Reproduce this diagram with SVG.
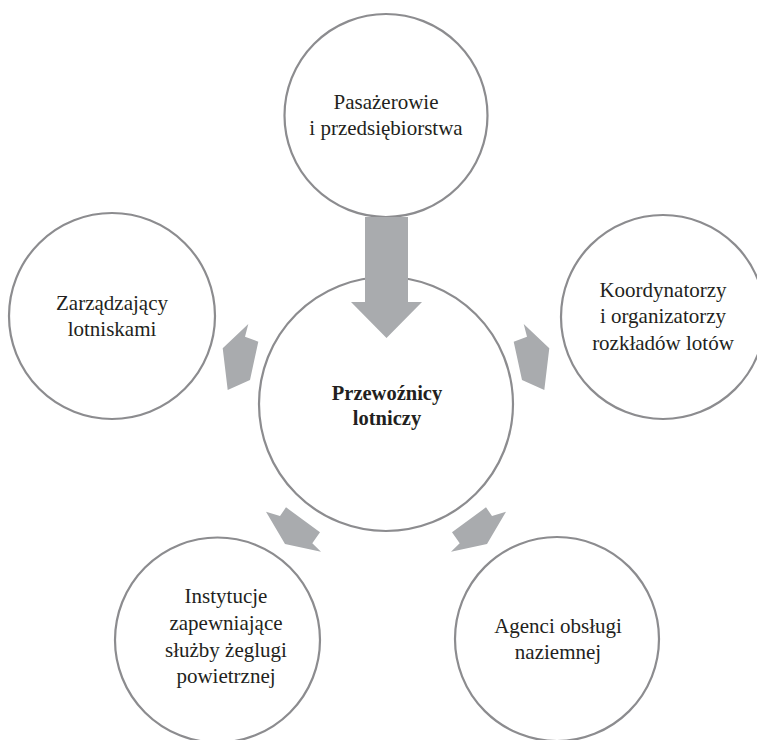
<svg xmlns="http://www.w3.org/2000/svg" width="757" height="740" viewBox="0 0 757 740">
<style>
.c{fill:#fff;stroke:#8c8c8f;stroke-width:2.2}
.t{font-family:'Liberation Serif','DejaVu Serif','Times New Roman',serif;font-size:21px;fill:#231f20;text-anchor:middle}
.b{font-weight:bold;font-size:20.5px}
.a{fill:#a9abae;stroke:none}
</style>
<rect width="757" height="740" fill="#fff"/>
<g id="node-top"><circle class="c" cx="386" cy="115.5" r="101.5"/>
<text class="t" x="386" y="109" font-family="Liberation Serif, serif">Pasażerowie</text><text class="t" x="386" y="135" font-family="Liberation Serif, serif">i przedsiębiorstwa</text></g>
<g id="node-left"><circle class="c" cx="112" cy="316" r="103"/>
<text class="t" x="112" y="310">Zarządzający</text><text class="t" x="112" y="336">lotniskami</text></g>
<g id="node-right"><circle class="c" cx="663" cy="317" r="102"/>
<text class="t" x="663" y="297">Koordynatorzy</text><text class="t" x="663" y="323">i organizatorzy</text><text class="t" x="663" y="350">rozkładów lotów</text></g>
<g id="node-bl"><circle class="c" cx="217.5" cy="640" r="102.5"/>
<text class="t" x="226" y="603">Instytucje</text><text class="t" x="226" y="630">zapewniające</text><text class="t" x="226" y="657">służby żeglugi</text><text class="t" x="226" y="683">powietrznej</text></g>
<g id="node-br"><circle class="c" cx="557" cy="639" r="102"/>
<text class="t" x="558" y="633">Agenci obsługi</text><text class="t" x="558" y="659">naziemnej</text></g>
<g id="node-center"><circle class="c" cx="386" cy="404" r="127"/>
<text class="t b" x="387" y="400">Przewoźnicy</text><text class="t b" x="387" y="425">lotniczy</text></g>
<g id="connectors">
<polygon class="a" points="365,217 408,217 408,302 422,302 386.5,338 351,302 365,302"/>
<polygon class="a" points="248.3,324 245,336.7 258.3,341.7 250,380 227.7,390 222.7,348.3"/>
<polygon class="a" points="523.7,324 527,336.7 513.7,341.7 522,380 544.3,390 549.3,348.3"/>
<polygon class="a" points="266,511.7 280,516 286,507.3 320,532.3 312.3,543.3 321,551.7 285,544"/>
<polygon class="a" points="506,511.7 492,516 486,507.3 452,532.3 459.7,543.3 451,551.7 487,544"/>
</g>
</svg>
